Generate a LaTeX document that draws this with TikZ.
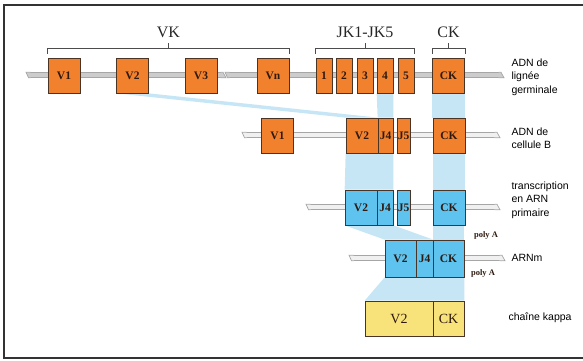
\documentclass[tikz,border=0pt]{standalone}
\usepackage{fontspec}
\setmainfont{Liberation Serif}
\setsansfont{Liberation Sans}
\usetikzlibrary{calc,positioning,backgrounds}
\definecolor{segOrange} {HTML}{F2812E}
\definecolor{segBlue}   {HTML}{5EC3EF}
\definecolor{segYellow} {HTML}{F8E27A}
\definecolor{bandBlue}  {HTML}{C6E6F6}
\definecolor{segEdge}   {HTML}{4A3426}
\definecolor{segText}   {HTML}{2E1A10}
\tikzset{
  seg/.style={rectangle,draw=segEdge,line width=0.7pt,inner sep=0pt,minimum height=35pt,
    text=segText,font=\bfseries\fontsize{11.5}{12}\selectfont},
  vseg/.style={seg,fill=segOrange,minimum width=32pt},
  jseg/.style={seg,fill=segOrange,minimum width=16pt},
  rnaseg/.style={seg,fill=segBlue},
  protseg/.style={seg,fill=segYellow},
  band/.style={fill=bandBlue,draw=none},
  brace/.style={draw=black!70,line width=0.7pt},
  head/.style={font=\fontsize{16}{18}\selectfont,text=black!85,inner sep=1pt},
  rowlabel/.style={anchor=west,align=left,font=\sffamily\fontsize{10.5}{13.5}\selectfont},
  polya/.style={font=\bfseries\fontsize{8.5}{9}\selectfont,text=segText},
  frame/.style={draw=black!80,line width=1.6pt},
  wire/.style={draw=gray!70,line width=0.7pt,double=#1,double distance=4.8pt},
  wire/.default=gray!12,
  pics/tubeL/.style={code={
    \draw[draw=gray!70,fill=#1,line width=0.7pt] (0.5,-2.75) -- (-4,-2.75) -- (-1.5,2.75) -- (0.5,2.75);}},
  pics/tubeL/.default=gray!12,
  pics/tubeR/.style={code={
    \draw[draw=gray!70,fill=#1,line width=0.7pt] (-0.5,-2.75) -- (2,-2.75) -- (5,2.75) -- (-0.5,2.75);}},
  pics/tubeR/.default=gray!12,
}

\begin{document}
\begin{tikzpicture}[x=1pt,y=-1pt]

\useasboundingbox (0,0) rectangle (583,361);
\draw[frame] (4,5) rectangle (600,358);

% germline DNA
\node[vseg] (g-V1) at (64,75.5)  {V1};
\node[vseg] (g-V2) at (132.5,75.5) {V2};
\node[vseg] (g-V3) at (201,75.5) {V3};
\node[vseg] (g-Vn) at (273,75.5) {Vn};
\foreach \j/\x in {1/324,2/344,3/365,4/385,5/406}
  \node[jseg] (g-J\j) at (\x,75.5) {\j};
\node[vseg] (g-CK) at (448.5,75.5) {CK};

% B cell DNA
\node[vseg] (b-V1) at (277.5,135.5) {V1};
\node[vseg] (b-V2) at (362,135.5) {V2};
\node[jseg,minimum width=15pt] (b-J4) at (385.5,135.5) {J4};
\node[jseg,minimum width=13pt] (b-J5) at (403.5,135.5) {J5};
\node[vseg] (b-CK) at (449,135.5) {CK};

% primary RNA transcript
\node[rnaseg,minimum width=32pt] (t-V2) at (361,207.5) {V2};
\node[rnaseg,minimum width=16pt] (t-J4) at (385,207.5) {J4};
\node[rnaseg,minimum width=13pt] (t-J5) at (403.5,207.5) {J5};
\node[rnaseg,minimum width=32pt] (t-CK) at (449,207.5) {CK};
\node[polya] (t-polyA) at (486,235) {poly A};

% mRNA
\node[rnaseg,minimum width=31pt,minimum height=37pt] (m-V2) at (400.5,258.5) {V2};
\node[rnaseg,minimum width=17pt,minimum height=37pt] (m-J4) at (424.5,258.5) {J4};
\node[rnaseg,minimum width=31pt,minimum height=37pt] (m-CK) at (448.5,258.5) {CK};
\node[polya] (m-polyA) at (483,273) {poly A};

% kappa chain
\node[protseg,minimum width=68pt,font=\fontsize{14}{15}\selectfont] (k-V2) at (399,318.5) {V2};
\node[protseg,minimum width=31pt,font=\fontsize{14}{15}\selectfont] (k-CK) at (448.5,318.5) {CK};

% brackets
\draw[brace] ([yshift=4pt]g-V1.north west) -- ++(0,-5) -| ([yshift=4pt]g-Vn.north east);
\draw[brace] ([yshift=4pt]g-J1.north west) -- ++(0,-5) -| ([yshift=4pt]g-J5.north east);
\draw[brace] ([yshift=4pt]g-CK.north west) -- ++(0,-5) -| ([yshift=4pt]g-CK.north east);
\path ([yshift=9pt]g-V1.north west) -- ([yshift=9pt]g-Vn.north east) coordinate[midway] (vk-mid);
\path ([yshift=9pt]g-J1.north west) -- ([yshift=9pt]g-J5.north east) coordinate[midway] (jk-mid);
\path ([yshift=9pt]g-CK.north west) -- ([yshift=9pt]g-CK.north east) coordinate[midway] (ck-mid);
\draw[brace] (vk-mid) -- ++(0,-6) node[head,above=4pt] (vk) {VK};
\draw[brace] (jk-mid) -- ++(0,-6) node[head,above=4pt] (jk) {JK1-JK5};
\draw[brace] (ck-mid) -- ++(0,-6) node[head,above=4pt] (ck) {CK};

% row labels
\node[rowlabel] (lab-g) at (508,77)  {ADN de\\lignée\\germinale};
\node[rowlabel] (lab-b) at (508,138) {ADN de\\cellule B};
\node[rowlabel] (lab-t) at (508,200) {transcription\\en ARN\\primaire};
\node[rowlabel] (lab-m) at (508,258) {ARNm};
\node[rowlabel] (lab-k) at (505,318) {chaîne kappa};

\begin{scope}[on background layer]
  % rearrangement bands
  \fill[band] (g-V2.south west) -- (g-V2.south east) -- (b-V2.north east) -- (b-V2.north west) -- cycle;
  \fill[band] (g-J4.south west) -- (g-J4.south east) -- (b-J4.north east) -- (b-J4.north west) -- cycle;
  \fill[band] (g-CK.south west) rectangle (b-CK.north east);
  \fill[band] (b-V2.south west) -- (b-J4.south east) -- (t-J4.north east) -- (t-V2.north west) -- cycle;
  \fill[band] (b-CK.south west) rectangle (t-CK.north east);
  \fill[band] (t-V2.south west) -- (t-J4.south east) -- (m-J4.north east) -- (m-V2.north west) -- cycle;
  \fill[band] (t-CK.south west) rectangle (m-CK.north east);
  \fill[band] (m-V2.south west) -- (m-CK.south east) -- (k-CK.north east) -- (k-V2.north west) -- cycle;

  % strands
  \coordinate (g-w1) at (30,75);  \coordinate (g-w2) at (221,75);
  \coordinate (g-w3) at (229,75); \coordinate (g-w4) at (499,75);
  \coordinate (b-w1) at (246,135); \coordinate (b-w2) at (495,135);
  \coordinate (t-w1) at (310,207); \coordinate (t-w2) at (495,207);
  \coordinate (m-w1) at (353,258); \coordinate (m-w2) at (500,258);
  \draw[wire=gray!40] (g-w1) -- (g-w2);
  \draw[wire=gray!40] (g-w3) -- (g-w4);
  \draw[wire] (b-w1) -- (b-w2);
  \draw[wire] (t-w1) -- (t-w2);
  \draw[wire] (m-w1) -- (m-w2);
  \pic at (g-w1) {tubeL=gray!40};
  \pic at (g-w2) {tubeR=gray!40};
  \pic at (g-w3) {tubeL=gray!40};
  \pic at (g-w4) {tubeR=gray!40};
  \foreach \r in {b,t,m} {
    \pic at (\r-w1) {tubeL};
    \pic at (\r-w2) {tubeR};
  }
\end{scope}

\end{tikzpicture}
\end{document}
